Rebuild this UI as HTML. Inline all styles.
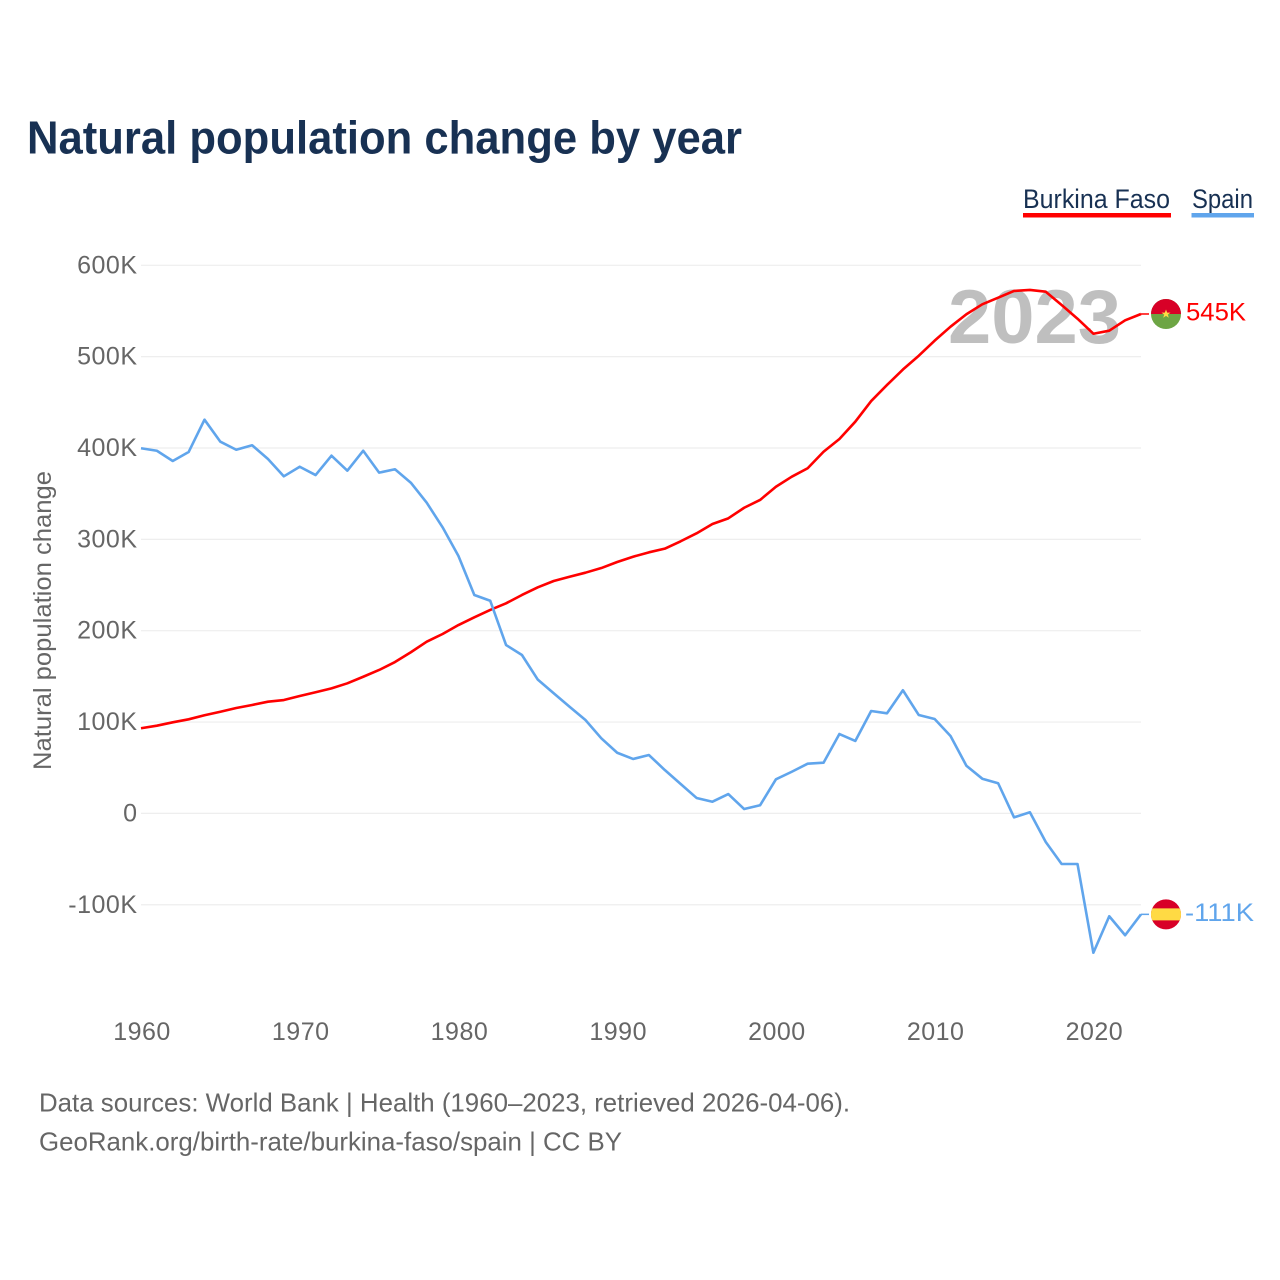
<!DOCTYPE html>
<html lang="en">
<head>
<meta charset="utf-8">
<title>Natural population change by year</title>
<style>
html,body{margin:0;padding:0;background:#fff;width:1280px;height:1280px;overflow:hidden}
svg{display:block}
text{font-family:"Liberation Sans",sans-serif}
</style>
</head>
<body>
<svg id="chart" xmlns="http://www.w3.org/2000/svg" width="1280" height="1280" viewBox="0 0 1280 1280">
  <rect width="1280" height="1280" fill="#ffffff"/>
  <text x="27" y="153.5" font-size="46" font-weight="700" fill="#183153" textLength="715" lengthAdjust="spacingAndGlyphs">Natural population change by year</text>

  <g>
    <text x="1023" y="208" font-size="27" fill="#183153" textLength="147" lengthAdjust="spacingAndGlyphs">Burkina Faso</text>
    <rect x="1023" y="213" width="148" height="4.5" fill="#ff0000"/>
  </g>
  <g>
    <text x="1192" y="208" font-size="27" fill="#183153" textLength="61" lengthAdjust="spacingAndGlyphs">Spain</text>
    <rect x="1191.5" y="213" width="62.5" height="4.5" fill="#60a5ec"/>
  </g>

  <text transform="translate(51,770) rotate(-90)" font-size="25" fill="#666666" textLength="299" lengthAdjust="spacingAndGlyphs">Natural population change</text>

  <g id="grid"></g>
  <g id="y-ticks"></g>
  <g id="x-ticks"></g>

  <text x="948" y="343" font-size="76" font-weight="700" fill="#bfbfbf" textLength="173" lengthAdjust="spacingAndGlyphs">2023</text>

  <g id="series"></g>

  <g id="flag-bf">
    <circle r="15" fill="#6da544"/>
    <path d="M-15 0A15 15 0 0 1 15 0Z" fill="#d80027"/>
    <polygon points="0,-4.5 1.2,-1.4 4.5,-1.4 1.8,0.6 2.8,3.8 0,1.9 -2.8,3.8 -1.8,0.6 -4.5,-1.4 -1.2,-1.4" fill="#ffda44"/>
  </g>
  <g id="flag-es">
    <circle r="15" fill="#d80027"/>
    <path d="M-13.75 -6H13.75A15 15 0 0 1 13.75 6H-13.75A15 15 0 0 1 -13.75 -6Z" fill="#ffda44"/>
  </g>
  <text id="end-bf" x="1186" font-size="25" fill="#ff0000" textLength="60" lengthAdjust="spacingAndGlyphs">545K</text>
  <text id="end-es" x="1185" font-size="25" fill="#60a5ec" textLength="69" lengthAdjust="spacingAndGlyphs">-111K</text>

  <text x="39" y="1111.5" font-size="26" fill="#666666" textLength="811" lengthAdjust="spacingAndGlyphs">Data sources: World Bank | Health (1960–2023, retrieved 2026-04-06).</text>
  <text x="39" y="1150.5" font-size="26" fill="#666666" textLength="583" lengthAdjust="spacingAndGlyphs">GeoRank.org/birth-rate/burkina-faso/spain | CC BY</text>
</svg>
<script>
// Values in thousands of people, one per year starting at firstYear.
const firstYear = 1960;
const lastYear = 2023;
const yTickValues = [600, 500, 400, 300, 200, 100, 0, -100];
const yTickLabels = ['600K', '500K', '400K', '300K', '200K', '100K', '0', '-100K'];
const xTickYears = [1960, 1970, 1980, 1990, 2000, 2010, 2020];
const burkinaFaso = [
  93.2, 96, 99.7, 103, 107.4, 111.3, 115.4, 118.7, 122.3, 124.1,
  128.5, 132.6, 136.9, 142.4, 149.6, 157, 165.7, 176.4, 188, 196.4,
  206.2, 214.7, 222.7, 230, 239.1, 247.5, 254.4, 259.1, 263.5, 268.6,
  275.2, 281, 285.8, 289.8, 297.9, 306.6, 316.8, 323, 334.6, 343.1,
  357.6, 368.6, 377.8, 395.9, 409.9, 428.8, 451.4, 469, 485.9, 501,
  517.5, 532.8, 546.4, 557.3, 564.5, 571.9, 573, 571.1, 556.5, 541.5,
  525.1, 528.4, 539.8, 546.7
];
const spain = [
  399.7, 397, 385.8, 395.6, 431, 406.9, 398.1, 403, 388, 369,
  379.5, 370.4, 391.6, 375.2, 397, 373, 376.7, 362, 340.1, 313.2,
  281.8, 239.1, 232.8, 184.3, 173.4, 146.4, 131.5, 116.8, 102.2, 82.2,
  66.4, 59.6, 63.9, 47.5, 32.2, 16.9, 12.8, 21.2, 4.8, 8.9,
  37.3, 45.6, 54.4, 55.5, 86.9, 79.3, 112.1, 109.6, 134.8, 107.7,
  103.3, 84.7, 52.2, 38, 33, -4.3, 1.2, -31.3, -55.4, -55.4,
  -152.5, -112.6, -133.4, -110.5
];

const NS = 'http://www.w3.org/2000/svg';
const plotLeft = 141;
const plotRight = 1141;
const zeroY = 813.4;
const pxPerK = 0.9135;
function xScale(year) {
  return plotLeft + (year - firstYear) * (plotRight - plotLeft) / (lastYear - firstYear);
}
function yScale(value) {
  return zeroY - value * pxPerK;
}
function make(tag, attrs, parent) {
  const el = document.createElementNS(NS, tag);
  for (const key in attrs) el.setAttribute(key, attrs[key]);
  parent.appendChild(el);
  return el;
}

const grid = document.getElementById('grid');
const yTicks = document.getElementById('y-ticks');
const xTicks = document.getElementById('x-ticks');
const seriesGroup = document.getElementById('series');

yTickValues.forEach(function (value, i) {
  const y = yScale(value);
  const line = make('line', {x1: plotLeft, x2: plotRight, y1: y, y2: y, stroke: '#eeeeee', 'stroke-width': 1.2}, grid);
  
  
  const label = make('text', {x: 137.5, y: y + 8, 'text-anchor': 'end', 'font-size': 25, fill: '#666666', 'letter-spacing': 0.5}, yTicks);
  
  
  label.textContent = yTickLabels[i];
});

xTickYears.forEach(function (year) {
  const label = make('text', {x: xScale(year) + 1, y: 1040, 'text-anchor': 'middle', 'font-size': 25, fill: '#666666', 'letter-spacing': 0.5}, xTicks);
  
  
  label.textContent = year;
});

function drawSeries(values, color, flagId, endId) {
  const d = values.map(function (v, i) {
    return (i ? 'L' : 'M') + xScale(firstYear + i).toFixed(2) + ' ' + yScale(v).toFixed(2);
  }).join('');
  const path = make('path', {d: d, fill: 'none', stroke: color, 'stroke-width': 2.6, 'stroke-linejoin': 'round'}, seriesGroup);
  
  
  const lastY = yScale(values[values.length - 1]);
  const connector = make('line', {x1: plotRight, x2: plotRight + 8, y1: lastY, y2: lastY, stroke: color, 'stroke-width': 1.5}, seriesGroup);
  
  
  document.getElementById(flagId).setAttribute('transform', 'translate(1166,' + lastY.toFixed(2) + ')');
  document.getElementById(endId).setAttribute('y', (lastY + 6.5).toFixed(2));
}
drawSeries(burkinaFaso, '#ff0000', 'flag-bf', 'end-bf');
drawSeries(spain, '#60a5ec', 'flag-es', 'end-es');
</script>
</body>
</html>
